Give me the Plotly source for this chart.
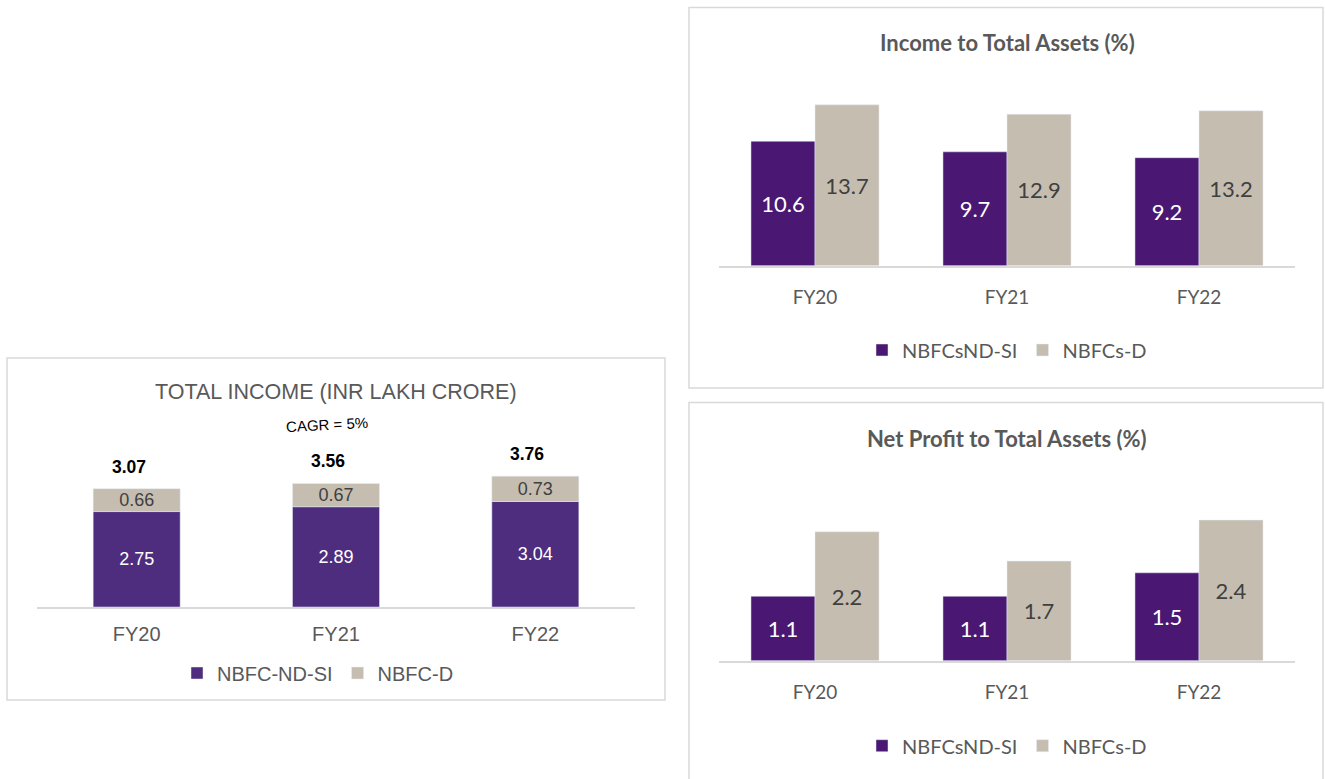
import plotly.graph_objects as go

W, H = 1325, 779

# ---------------- data ----------------
years = ["FY20", "FY21", "FY22"]

# Total income (INR lakh crore)
income_ndsi = [2.75, 2.89, 3.04]
income_d = [0.66, 0.67, 0.73]
income_total_labels = ["3.07", "3.56", "3.76"]
cagr_text = "CAGR = 5%"

# Income to total assets (%)
ita_ndsi = [10.6, 9.7, 9.2]
ita_d = [13.7, 12.9, 13.2]

# Net profit to total assets (%)
npta_ndsi = [1.1, 1.1, 1.5]
npta_d = [2.2, 1.7, 2.4]

# ---------------- styles ----------------
PURPLE_L = "#4E2D7E"
PURPLE_R = "#4A1772"
BEIGE = "#C5BDB0"
GREY_TXT = "#595959"
DARK_TXT = "#404040"
BORDER = "#D9D9D9"
ARIAL = "Liberation Sans, Arial, sans-serif"
CALIBRI = "Lato, Carlito, Calibri, sans-serif"
LEFT_BAR_W = 0.4365


def px_x(p):
    return p / W


def px_y(p):
    return 1 - p / H


fig = go.Figure()

common = dict(textposition="inside", insidetextanchor="middle", textangle=0,
              constraintext="none", hoverinfo="skip")

# ---- left: stacked total income (stack built with base) ----
fig.add_trace(go.Bar(
    x=years, y=income_ndsi, name="NBFC-ND-SI", marker_color=PURPLE_L,
    text=[f"{v:.2f}" for v in income_ndsi],
    textfont=dict(color="white", size=18, family=ARIAL),
    width=LEFT_BAR_W, offset=-LEFT_BAR_W / 2, offsetgroup="L",
    xaxis="x", yaxis="y", legend="legend", **common))
fig.add_trace(go.Bar(
    x=years, y=income_d, base=income_ndsi, name="NBFC-D", marker_color=BEIGE,
    text=[f"{v:.2f}" for v in income_d],
    textfont=dict(color=DARK_TXT, size=18, family=ARIAL),
    width=LEFT_BAR_W, offset=-LEFT_BAR_W / 2, offsetgroup="L",
    xaxis="x", yaxis="y", legend="legend", **common))

# ---- top right: income to total assets ----
fig.add_trace(go.Bar(
    x=years, y=ita_ndsi, name="NBFCsND-SI", marker_color=PURPLE_R,
    text=[f"{v:.1f}" for v in ita_ndsi],
    textfont=dict(color="white", size=22, family=CALIBRI),
    xaxis="x2", yaxis="y2", legend="legend2", offsetgroup="a", **common))
fig.add_trace(go.Bar(
    x=years, y=ita_d, name="NBFCs-D", marker_color=BEIGE,
    text=[f"{v:.1f}" for v in ita_d],
    textfont=dict(color=DARK_TXT, size=22, family=CALIBRI),
    xaxis="x2", yaxis="y2", legend="legend2", offsetgroup="b", **common))

# ---- bottom right: net profit to total assets ----
fig.add_trace(go.Bar(
    x=years, y=npta_ndsi, name="NBFCsND-SI", marker_color=PURPLE_R,
    text=[f"{v:.1f}" for v in npta_ndsi],
    textfont=dict(color="white", size=22, family=CALIBRI),
    xaxis="x3", yaxis="y3", legend="legend3", offsetgroup="a", **common))
fig.add_trace(go.Bar(
    x=years, y=npta_d, name="NBFCs-D", marker_color=BEIGE,
    text=[f"{v:.1f}" for v in npta_d],
    textfont=dict(color=DARK_TXT, size=22, family=CALIBRI),
    xaxis="x3", yaxis="y3", legend="legend3", offsetgroup="b", **common))

# total labels above stacks
totals = [a + b for a, b in zip(income_ndsi, income_d)]
for yr, tot, lab in zip(years, totals, income_total_labels):
    fig.add_annotation(x=yr, y=tot, xref="x", yref="y", text=f"<b>{lab}</b>",
                       showarrow=False, xanchor="center", yanchor="middle",
                       yshift=22, xshift=-8,
                       font=dict(size=17.5, color="black", family=ARIAL))

# texts
fig.add_annotation(x=px_x(336), y=px_y(392), xref="paper", yref="paper",
                   text="TOTAL INCOME (INR LAKH CRORE)", showarrow=False,
                   xanchor="center", yanchor="middle",
                   font=dict(size=21.5, color=GREY_TXT, family=ARIAL))
fig.add_annotation(x=px_x(327), y=px_y(424), xref="paper", yref="paper",
                   text=cagr_text, showarrow=False, textangle=-3,
                   xanchor="center", yanchor="middle",
                   font=dict(size=15, color="black", family=ARIAL))
fig.add_annotation(x=px_x(1007), y=px_y(43), xref="paper", yref="paper",
                   text="<b>Income to Total Assets (%)</b>", showarrow=False,
                   xanchor="center", yanchor="middle",
                   font=dict(size=22, color=GREY_TXT, family=CALIBRI))
fig.add_annotation(x=px_x(1007), y=px_y(438), xref="paper", yref="paper",
                   text="<b>Net Profit to Total Assets (%)</b>", showarrow=False,
                   xanchor="center", yanchor="middle",
                   font=dict(size=22, color=GREY_TXT, family=CALIBRI))

# borders
shapes = [
    dict(type="rect", xref="paper", yref="paper", x0=px_x(7), x1=px_x(665),
         y0=px_y(700), y1=px_y(358), line=dict(color=BORDER, width=1.5)),
    dict(type="rect", xref="paper", yref="paper", x0=px_x(689), x1=px_x(1323),
         y0=px_y(388), y1=px_y(7.5), line=dict(color=BORDER, width=1.5)),
    dict(type="rect", xref="paper", yref="paper", x0=px_x(689), x1=px_x(1323),
         y0=px_y(790), y1=px_y(402.5), line=dict(color=BORDER, width=1.5)),
]


def xaxis_cfg(x0, x1, size, family, ticklen):
    return dict(domain=[px_x(x0), px_x(x1)], range=[-0.5, 2.5], showline=True,
                linecolor=BORDER, linewidth=2, showgrid=False, zeroline=False,
                ticks="outside", ticklen=ticklen, tickcolor="rgba(0,0,0,0)",
                tickfont=dict(size=size, color=GREY_TXT, family=family),
                fixedrange=True)


def yaxis_cfg(top_px, base_px, top_val, anchor):
    return dict(domain=[px_y(base_px), px_y(top_px)], range=[0, top_val],
                visible=False, showgrid=False, zeroline=False, anchor=anchor,
                fixedrange=True)


fig.update_layout(
    width=W, height=H, margin=dict(l=0, r=0, t=0, b=0),
    paper_bgcolor="white", plot_bgcolor="white",
    barmode="group",
    bargap=0.333,
    bargroupgap=0,
    showlegend=True,
    xaxis=dict(**xaxis_cfg(37, 635, 20, ARIAL, 8), anchor="y"),
    yaxis=yaxis_cfg(440, 607, (607 - 440) / 34.7, "x"),
    xaxis2=dict(**xaxis_cfg(719, 1295, 19, CALIBRI, 13), anchor="y2"),
    yaxis2=yaxis_cfg(60, 265.7, (265.7 - 60) / 11.74, "x2"),
    xaxis3=dict(**xaxis_cfg(719, 1295, 19, CALIBRI, 13), anchor="y3"),
    yaxis3=yaxis_cfg(470, 660.7, (660.7 - 470) / 58.6, "x3"),
    legend=dict(x=px_x(318), y=px_y(673), xanchor="center", yanchor="middle",
                orientation="h", font=dict(size=20, color=GREY_TXT, family=ARIAL),
                bgcolor="rgba(0,0,0,0)", traceorder="normal"),
    legend2=dict(x=px_x(1007), y=px_y(350), xanchor="center", yanchor="middle",
                 orientation="h", font=dict(size=20, color=GREY_TXT, family=CALIBRI),
                 bgcolor="rgba(0,0,0,0)", traceorder="normal"),
    legend3=dict(x=px_x(1007), y=px_y(745.7), xanchor="center", yanchor="middle",
                 orientation="h", font=dict(size=20, color=GREY_TXT, family=CALIBRI),
                 bgcolor="rgba(0,0,0,0)", traceorder="normal"),
    shapes=shapes,
)

fig.write_html("out.html", config={"displayModeBar": False},
               post_script="document.body.style.margin='0';document.body.style.padding='0';")
